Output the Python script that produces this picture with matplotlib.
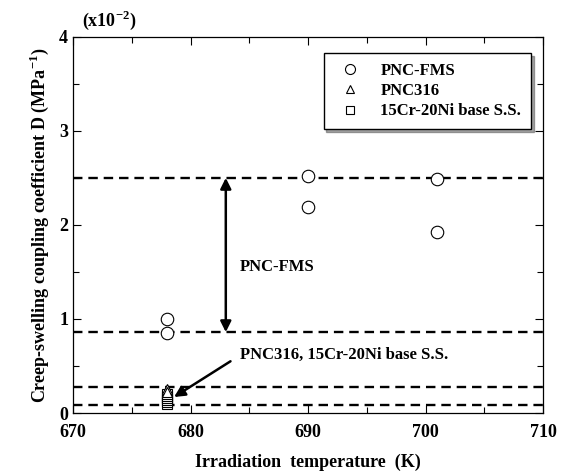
import numpy as np
import matplotlib
matplotlib.use("Agg")
import matplotlib.pyplot as plt

plt.rcParams['font.family'] = ['Liberation Serif', 'DejaVu Serif']
plt.rcParams['font.weight'] = 'bold'
plt.rcParams['mathtext.fontset'] = 'custom'
plt.rcParams['mathtext.rm'] = 'Liberation Serif:bold'

# data (D in units of 1e-2 MPa^-1)
fms_T = [678, 678, 690, 690, 701, 701]
fms_D = [1.00, 0.85, 2.52, 2.19, 2.49, 1.92]
pnc316_T = [678, 678]
pnc316_D = [0.25, 0.22]
ss_T = [678, 678, 678, 678, 678, 678]
ss_D = [0.10, 0.12, 0.14, 0.16, 0.18, 0.20]
band_lines = [2.50, 0.86, 0.28, 0.09]

fig = plt.figure(figsize=(5.7, 4.72), dpi=100)
ax = fig.add_axes([0.128, 0.125, 0.825, 0.797])

for y in band_lines:
    ax.axhline(y, color='black', ls=(0, (4, 2.5)), lw=1.7, zorder=1)

ax.plot(ss_T, ss_D, 's', ms=7, mfc='white', mec='black', mew=0.8, ls='none',
        label='15Cr-20Ni base S.S.', zorder=3)
ax.plot(pnc316_T, pnc316_D, '^', ms=7, mfc='white', mec='black', mew=0.8, ls='none',
        label='PNC316', zorder=3)
ax.plot(fms_T, fms_D, 'o', ms=9, mfc='white', mec='black', mew=0.8, ls='none',
        label='PNC-FMS', zorder=3)

# double arrow for FMS band
ax.annotate('', xy=(683, 2.50), xytext=(683, 0.86),
            arrowprops=dict(arrowstyle='<|-|>', color='black', lw=1.8,
                            mutation_scale=16, shrinkA=0, shrinkB=0))
ax.text(684.2, 1.55, 'PNC-FMS', fontsize=12, fontweight='bold', va='center')

ax.annotate('', xy=(678.6, 0.17), xytext=(683.4, 0.55),
            arrowprops=dict(arrowstyle='-|>', color='black', lw=1.8,
                            mutation_scale=16, shrinkA=0, shrinkB=0))
ax.text(684.2, 0.62, 'PNC316, 15Cr-20Ni base S.S.', fontsize=12,
        fontweight='bold', va='center')

ax.set_xlim(670, 710)
ax.set_ylim(0, 4)
ax.set_xticks([670, 680, 690, 700, 710])
ax.set_yticks([0, 1, 2, 3, 4])
ax.set_xticks(np.arange(670, 711, 5), minor=True)
ax.set_yticks(np.arange(0, 4.01, 0.5), minor=True)
ax.tick_params(which='both', direction='in', top=True, right=True, labelsize=13)
ax.tick_params(which='major', length=6, width=0.8)
ax.tick_params(which='minor', length=4, width=0.8)
ax.tick_params(axis='x', pad=8)
for sp in ax.spines.values():
    sp.set_linewidth(0.9)

ax.set_xlabel('Irradiation  temperature  (K)', fontsize=13, fontweight='bold', labelpad=9)
ax.set_ylabel('Creep-swelling coupling coefficient D (MPa$^{-1}$)', fontsize=13,
              fontweight='bold', labelpad=6)
fig.text(0.143, 0.945, '(x10$^{-2}$)', fontsize=13, fontweight='bold')

h, l = ax.get_legend_handles_labels()
leg = ax.legend(h[::-1], l[::-1], loc='upper right', bbox_to_anchor=(0.985, 0.97),
                fontsize=12, frameon=True, fancybox=False, shadow=True,
                edgecolor='black', handletextpad=0.8, borderpad=0.6,
                labelspacing=0.25, markerscale=0.8, borderaxespad=0.3)
leg.get_frame().set_linewidth(1.0)

fig.savefig('out.png', dpi=100)
